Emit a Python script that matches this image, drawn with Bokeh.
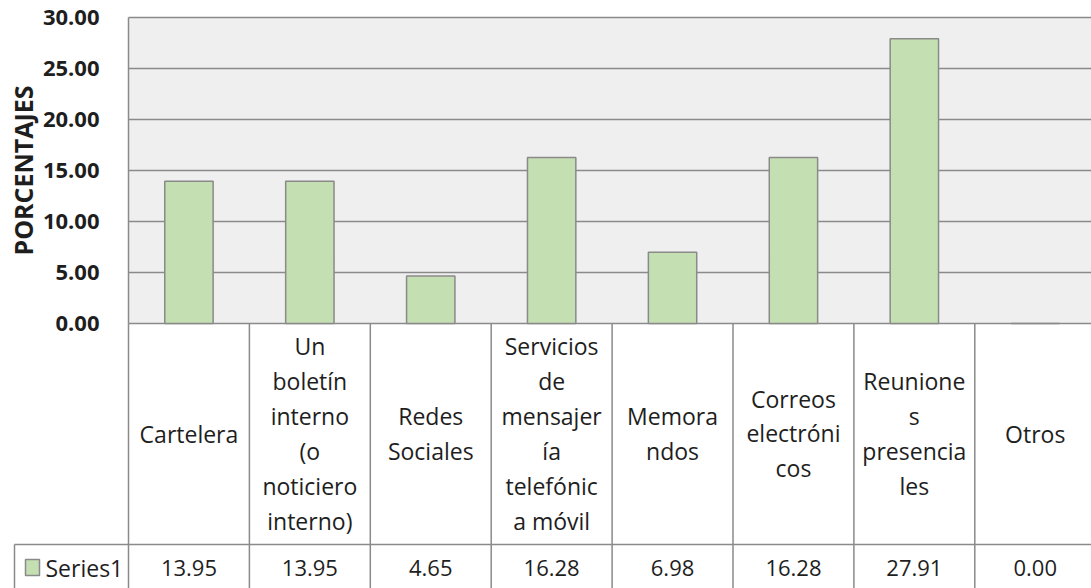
from bokeh.plotting import figure
from bokeh.models import Range1d, FixedTicker, NumeralTickFormatter
from bokeh.embed import file_html
from bokeh.resources import INLINE
from bokeh.core.properties import value

# ---- data ----
categories = ["Cartelera", "Un boletín interno (o noticiero interno)", "Redes Sociales",
              "Servicios de mensajería telefónica móvil", "Memorandos",
              "Correos electrónicos", "Reuniones presenciales", "Otros"]
category_labels = ["Cartelera", "Un\nboletín\ninterno\n(o\nnoticiero\ninterno)",
                   "Redes\nSociales", "Servicios\nde\nmensajer\nía\ntelefónic\na móvil",
                   "Memora\nndos", "Correos\nelectróni\ncos", "Reunione\ns\npresencia\nles",
                   "Otros"]
values = [13.95, 13.95, 4.65, 16.28, 6.98, 16.28, 27.91, 0.00]
y_ticks = [0, 5, 10, 15, 20, 25, 30]
series_name = "Series1"
y_title = "PORCENTAJES"

# ---- style ----
TEXT = "#1e1e1e"
LINE = "#8a8a8a"
BAR = "#c4dfb2"
BG = "#efefef"
FONT = "Open Sans"

n = len(categories)
xs = [i + 0.5 for i in range(n)]
y_max = max(y_ticks)

# layout helpers: pixels per data unit (layout only)
PXX = 120.9
PXY = 10.2
def below(px):
    return -px / PXY
def left_of(px):
    return -px / PXX

top_end = y_max + 17 / PXY
p = figure(width=1091, height=588,
           x_range=Range1d(left_of(118), left_of(118) + 1081 / PXX),
           y_range=Range1d(top_end - 588 / PXY, top_end),
           output_backend="svg", toolbar_location=None, x_axis_location=None,
           min_border_left=10, min_border_right=0, min_border_top=0, min_border_bottom=0)
p.grid.visible = False
p.outline_line_color = None
p.background_fill_color = "white"
p.border_fill_color = "white"

ax = p.yaxis[0]
ax.fixed_location = 0
ax.bounds = (0, y_max)
ax.ticker = FixedTicker(ticks=y_ticks)
ax.formatter = NumeralTickFormatter(format="0.00")
ax.major_tick_line_color = None
ax.minor_tick_line_color = None
ax.axis_line_color = LINE
ax.axis_line_width = 1.5
ax.major_label_standoff = 23
ax.major_label_text_font = FONT
ax.major_label_text_font_style = "bold"
ax.major_label_text_font_size = "22px"
ax.major_label_text_color = TEXT
ax.axis_label = y_title
ax.axis_label_text_font = FONT
ax.axis_label_text_font_style = "bold"
ax.axis_label_text_font_size = "25px"
ax.axis_label_text_color = TEXT
ax.axis_label_standoff = 0

# plot area background and gridlines
p.quad(left=[0], right=[n], bottom=[0], top=[y_max], fill_color=BG, line_color=None)
p.segment(x0=[0] * len(y_ticks), y0=y_ticks, x1=[n] * len(y_ticks), y1=y_ticks,
          line_color=LINE, line_width=1.5)

p.vbar(x=xs, top=values, width=0.4, bottom=0, fill_color=BAR,
       line_color=LINE, line_width=1.5)

# ---- data table below the axis ----
bottom = below(280)
bounds = list(range(n + 1))
p.segment(x0=bounds, y0=[0] * (n + 1), x1=bounds, y1=[bottom] * (n + 1),
          line_color=LINE, line_width=1.5)
left_edge = left_of(114)
row_y = below(221)
p.segment(x0=[left_edge], y0=[row_y], x1=[n], y1=[row_y], line_color=LINE, line_width=1.5)
p.segment(x0=[left_edge], y0=[row_y], x1=[left_edge], y1=[bottom], line_color=LINE,
          line_width=1.5)

p.text(x=xs, y=[below(110)] * n, text=category_labels, text_align="center",
       text_baseline="middle", text_font=value(FONT), text_font_size="23px",
       text_line_height=1.09, text_color=TEXT)
val_y = below(244)
p.text(x=xs, y=[val_y] * n, text=[f"{v:.2f}" for v in values], text_align="center",
       text_baseline="middle", text_font=value(FONT), text_font_size="22px",
       text_color=TEXT)
p.rect(x=[left_of(96)], y=[val_y], width=14, height=16, width_units="screen",
       height_units="screen", fill_color=BAR, line_color=LINE, line_width=1.5)
p.text(x=[left_of(83)], y=[val_y], text=[series_name], text_align="left",
       text_baseline="middle", text_font=value(FONT), text_font_size="23px",
       text_color=TEXT)

open("out.html", "w").write(file_html(p, INLINE))
